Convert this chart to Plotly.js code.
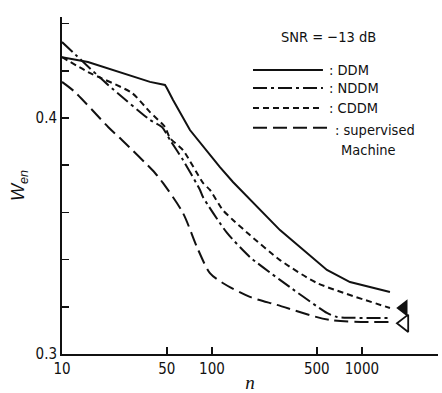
<!DOCTYPE html>
<html>
<head>
<meta charset="utf-8">
<script src="https://cdn.plot.ly/plotly-3.0.1.min.js"></script>
<style>html,body{margin:0;padding:0;background:#fff;}#chart{width:442px;height:393px;}</style>
</head>
<body>
<div id="chart"></div>
<script>
// Data (n on a log axis, W_en linear)
const ddmN  = [10, 14.9, 38.6, 48.6, 50, 55, 71.3, 113, 138, 209, 284, 584, 832, 1537];
const ddmW  = [0.4258, 0.4237, 0.4153, 0.4140, 0.4127, 0.4076, 0.3949, 0.3792, 0.3729, 0.3610, 0.3525, 0.3356, 0.3305, 0.3263];

const nddmN = [10, 20.3, 38.6, 46.4, 52.5, 64.1, 83.2, 87.1, 126, 179, 284, 584, 681, 1537];
const nddmW = [0.4322, 0.4140, 0.3992, 0.3962, 0.3907, 0.3822, 0.3695, 0.3665, 0.3513, 0.3411, 0.3314, 0.3174, 0.3157, 0.3153];

const cddmN = [10, 14.9, 29.3, 38.6, 48.6, 52.5, 64.1, 87.1, 96.9, 118, 138, 179, 284, 501, 1537];
const cddmW = [0.4258, 0.4195, 0.4106, 0.4025, 0.3962, 0.3915, 0.3864, 0.3725, 0.3695, 0.3610, 0.3568, 0.3504, 0.3398, 0.3301, 0.3195];

const supN  = [10, 12.2, 20.3, 25.1, 41.7, 47.1, 64.1, 79.4, 96.9, 118, 179, 271, 612, 1537];
const supW  = [0.4153, 0.4110, 0.3962, 0.3907, 0.3767, 0.3725, 0.3597, 0.3453, 0.3343, 0.3301, 0.3242, 0.3208, 0.3144, 0.3136];

// asymptote markers (filled / open triangles)
const filledTriN = [1900];
const filledTriW = [0.3195];
const openTriN   = [1920];
const openTriW   = [0.3130];

const xTickVals = [10, 50, 100, 500, 1000];
const xTickText = ['10', '50', '100', '500', '1000'];
const yTickVals = [0.30, 0.32, 0.34, 0.36, 0.38, 0.40, 0.42, 0.44];
const yTickText = ['0.3', '', '', '', '', '0.4', '', ''];

const seriesNames = ['DDM', 'NDDM', 'CDDM', 'supervised Machine'];
const snrText = 'SNR = \u221213 dB';

const black = '#111';
const lw = 2;
const dashes = {
  DDM: 'solid',
  NDDM: '14px,4px,3px,4px',
  CDDM: '6px,4px',
  SUP: '14px,6px'
};

const traces = [
  {x: ddmN, y: ddmW, mode: 'lines', name: seriesNames[0], line: {color: black, width: lw, dash: dashes.DDM}},
  {x: nddmN, y: nddmW, mode: 'lines', name: seriesNames[1], line: {color: black, width: lw, dash: dashes.NDDM, shape: 'spline', smoothing: 0.6}},
  {x: cddmN, y: cddmW, mode: 'lines', name: seriesNames[2], line: {color: black, width: lw, dash: dashes.CDDM, shape: 'spline', smoothing: 0.6}},
  {x: supN, y: supW, mode: 'lines', name: seriesNames[3], line: {color: black, width: lw, dash: dashes.SUP, shape: 'spline', smoothing: 0.8}},
  {x: filledTriN, y: filledTriW, mode: 'markers', marker: {symbol: 'triangle-left', size: 15, color: black}},
  {x: openTriN, y: openTriW, mode: 'markers', marker: {symbol: 'triangle-left-open', size: 15, color: black, line: {width: 1.8, color: black}}}
];

const fam = 'Liberation Sans Narrow, DejaVu Sans Condensed, Liberation Sans, Arial, sans-serif';
const font = {family: fam, size: 14.5, color: black};
const tickFont = {family: fam, size: 15, color: black};

// legend drawn as line segments + labels in paper coordinates
const legY = [0.843, 0.789, 0.730, 0.671];
const legDash = [dashes.DDM, dashes.NDDM, dashes.CDDM, dashes.SUP];
const legX1 = [0.694, 0.694, 0.694, 0.713];
const shapes = legY.map((yy, i) => ({
  type: 'line', xref: 'paper', yref: 'paper',
  x0: 0.508, x1: legX1[i], y0: yy, y1: yy,
  line: {color: black, width: lw, dash: legDash[i]}
}));
const annotations = [
  {xref: 'paper', yref: 'paper', x: 0.71, y: 0.941, text: snrText, showarrow: false, xanchor: 'center', yanchor: 'middle', font: font},
  {xref: 'paper', yref: 'paper', x: 0.705, y: legY[0], text: ': DDM', showarrow: false, xanchor: 'left', yanchor: 'middle', font: font},
  {xref: 'paper', yref: 'paper', x: 0.705, y: legY[1], text: ': NDDM', showarrow: false, xanchor: 'left', yanchor: 'middle', font: font},
  {xref: 'paper', yref: 'paper', x: 0.705, y: legY[2], text: ': CDDM', showarrow: false, xanchor: 'left', yanchor: 'middle', font: font},
  {xref: 'paper', yref: 'paper', x: 0.722, y: legY[3] - 0.005, text: ': supervised', showarrow: false, xanchor: 'left', yanchor: 'middle', font: font},
  {xref: 'paper', yref: 'paper', x: 0.738, y: 0.605, text: 'Machine', showarrow: false, xanchor: 'left', yanchor: 'middle', font: font}
];

const layout = {
  width: 442, height: 393,
  margin: {l: 62, r: 4, t: 17, b: 39},
  paper_bgcolor: '#fff', plot_bgcolor: '#fff',
  showlegend: false,
  font: font,
  xaxis: {
    type: 'log', range: [1, 3.507],
    tickvals: xTickVals, ticktext: xTickText,
    ticks: 'inside', ticklen: 7, tickwidth: 1.5, tickcolor: black,
    showline: true, linecolor: black, linewidth: 2, mirror: false,
    showgrid: false, zeroline: false,
    tickfont: tickFont,
    title: {text: '<i>n</i>', font: {family: 'Liberation Serif, serif', size: 19, color: black}, standoff: 2}
  },
  yaxis: {
    range: [0.3, 0.4428],
    tickvals: yTickVals, ticktext: yTickText,
    ticks: 'inside', ticklen: 7, tickwidth: 1.5, tickcolor: black,
    showline: true, linecolor: black, linewidth: 2, mirror: false,
    showgrid: false, zeroline: false,
    tickfont: tickFont,
    title: {text: '<i>W<sub>en</sub></i>', font: {family: 'Liberation Sans, Arial, sans-serif', size: 18, color: black}, standoff: 6}
  },
  shapes: shapes,
  annotations: annotations
};

Plotly.newPlot('chart', traces, layout, {displayModeBar: false, staticPlot: true});
</script>
</body>
</html>
